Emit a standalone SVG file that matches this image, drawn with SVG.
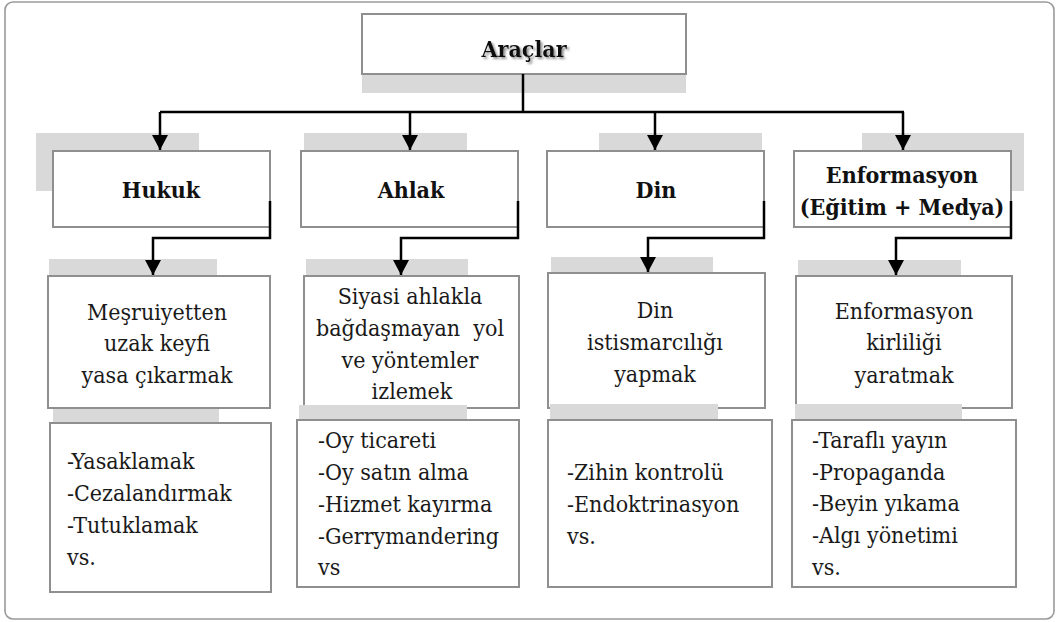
<svg xmlns="http://www.w3.org/2000/svg" width="1060" height="622" viewBox="0 0 1060 622" font-family="DejaVu Serif Condensed, DejaVu Serif, serif">
<defs>
<style>
.frame{fill:#fff;stroke:#9a9a9a;stroke-width:1.6}
.box{fill:#fff;stroke:#8f8f8f;stroke-width:2}
.sh{fill:#d9d9d9}
.conn{fill:none;stroke:#000;stroke-width:2.5}
text{font-size:23px;fill:#1a1a1a;font-stretch:condensed}
.b{font-weight:bold;fill:#111}
.c{text-anchor:middle}
.pre{white-space:pre}
</style>
<marker id="ah" markerUnits="userSpaceOnUse" markerWidth="15" markerHeight="16" refX="14" refY="7.5" orient="auto" viewBox="0 0 14 15">
<path d="M0,0 L14,7.5 L0,15 Z" fill="#000"/>
</marker>
<filter id="tsh" x="-10%" y="-20%" width="130%" height="160%">
<feDropShadow dx="2" dy="2" stdDeviation="1" flood-color="#777" flood-opacity="0.8"/>
</filter>
</defs>
<rect class="frame" x="5" y="2" width="1049" height="617" rx="8"/>

<g id="node-aralar">
<rect class="sh" x="362" y="74" width="324" height="19"/>
<rect class="box" x="362" y="14" width="324" height="60"/>
<text class="b c" x="524" y="57" filter="url(#tsh)">Araçlar</text>
</g>

<g id="node-hukuk">
<rect class="sh" x="36" y="133" width="163" height="58"/>
<rect class="box" x="53" y="151" width="217" height="76"/>
<text class="b c" x="161" y="198">Hukuk</text>
</g>
<g id="node-ahlak">
<rect class="sh" x="304" y="133" width="163" height="30"/>
<rect class="box" x="301" y="151" width="217" height="76"/>
<text class="b c" x="411" y="198">Ahlak</text>
</g>
<g id="node-din">
<rect class="sh" x="599" y="133" width="163" height="30"/>
<rect class="box" x="547" y="151" width="217" height="76"/>
<text class="b c" x="656" y="198">Din</text>
</g>
<g id="node-enformasyon">
<rect class="sh" x="862" y="133" width="162" height="58"/>
<rect class="box" x="794" y="151" width="217" height="76"/>
<text class="b c" x="902" y="183">Enformasyon</text>
<text class="b c" x="902" y="215">(Eğitim + Medya)</text>
</g>

<g id="node-hukuk-2">
<rect class="sh" x="49" y="259" width="168" height="20"/>
<rect class="box" x="48" y="276" width="222" height="132"/>
<text class="c" x="157" y="320">Meşruiyetten</text>
<text class="c" x="157" y="351">uzak keyfi</text>
<text class="c" x="157" y="383">yasa çıkarmak</text>
</g>
<g id="node-ahlak-2">
<rect class="sh" x="306" y="259" width="162" height="20"/>
<rect class="box" x="304" y="276" width="215" height="132"/>
<text class="c" x="410" y="304">Siyasi ahlakla</text>
<text class="c pre" x="410" y="336">bağdaşmayan  yol</text>
<text class="c" x="410" y="368">ve yöntemler</text>
<text class="c" x="412" y="399">izlemek</text>
</g>
<g id="node-din-2">
<rect class="sh" x="551" y="257" width="162" height="20"/>
<rect class="box" x="548" y="273" width="217" height="135"/>
<text class="c" x="655" y="318">Din</text>
<text class="c" x="655" y="350">istismarcılığı</text>
<text class="c" x="655" y="382">yapmak</text>
</g>
<g id="node-enformasyon-2">
<rect class="sh" x="798" y="260" width="163" height="20"/>
<rect class="box" x="796" y="276" width="216" height="132"/>
<text class="c" x="904" y="319">Enformasyon</text>
<text class="c" x="904" y="350">kirliliği</text>
<text class="c" x="904" y="383">yaratmak</text>
</g>

<g id="node-hukuk-3">
<rect class="sh" x="53" y="409" width="166" height="14"/>
<rect class="box" x="50" y="423" width="221" height="169"/>
<text x="67" y="469">-Yasaklamak</text>
<text x="67" y="501">-Cezalandırmak</text>
<text x="67" y="533">-Tutuklamak</text>
<text x="67" y="565">vs.</text>
</g>
<g id="node-ahlak-3">
<rect class="sh" x="299" y="405" width="168" height="15"/>
<rect class="box" x="297" y="420" width="222" height="167"/>
<text x="318" y="448">-Oy ticareti</text>
<text x="318" y="480">-Oy satın alma</text>
<text x="318" y="512">-Hizmet kayırma</text>
<text x="318" y="544">-Gerrymandering</text>
<text x="318" y="575">vs</text>
</g>
<g id="node-din-3">
<rect class="sh" x="550" y="404" width="168" height="16"/>
<rect class="box" x="548" y="420" width="224" height="167"/>
<text x="567" y="480">-Zihin kontrolü</text>
<text x="567" y="512">-Endoktrinasyon</text>
<text x="567" y="544">vs.</text>
</g>
<g id="node-enformasyon-3">
<rect class="sh" x="795" y="404" width="167" height="16"/>
<rect class="box" x="792" y="420" width="224" height="167"/>
<text x="812" y="448">-Taraflı yayın</text>
<text x="812" y="480">-Propaganda</text>
<text x="812" y="511">-Beyin yıkama</text>
<text x="812" y="543">-Algı yönetimi</text>
<text x="812" y="575">vs.</text>
</g>

<g id="connectors">
<path class="conn" d="M523,74 V112"/>
<path class="conn" d="M160,112 H904"/>
<path class="conn" d="M160,112 V150" marker-end="url(#ah)"/>
<path class="conn" d="M410,112 V150" marker-end="url(#ah)"/>
<path class="conn" d="M655,112 V150" marker-end="url(#ah)"/>
<path class="conn" d="M903,112 V150" marker-end="url(#ah)"/>
<path class="conn" d="M270,201 V238 H153 V275" marker-end="url(#ah)"/>
<path class="conn" d="M518,201 V238 H401 V275" marker-end="url(#ah)"/>
<path class="conn" d="M764,201 V238 H648 V272" marker-end="url(#ah)"/>
<path class="conn" d="M1011,201 V238 H896 V275" marker-end="url(#ah)"/>
</g>
</svg>
